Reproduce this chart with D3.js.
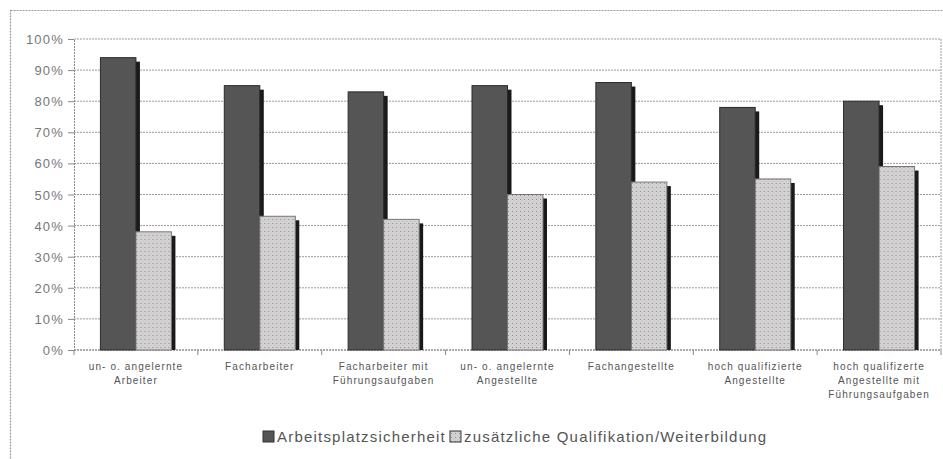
<!DOCTYPE html>
<html>
<head>
<meta charset="utf-8">
<script src="https://cdn.jsdelivr.net/npm/d3@7"></script>
<style>
  body { margin: 0; background: #fff; }
  svg { font-family: "Liberation Sans", Arial, sans-serif; }
  .grid line { stroke: #9a9a9a; stroke-dasharray: 2 1; }
  .axis text { fill: #777; }
</style>
</head>
<body>
<svg id="chart" width="943" height="459"></svg>
<script>
const categories = [
  ['un- o. angelernte', 'Arbeiter'],
  ['Facharbeiter'],
  ['Facharbeiter mit', 'Führungsaufgaben'],
  ['un- o. angelernte', 'Angestellte'],
  ['Fachangestellte'],
  ['hoch qualifizierte', 'Angestellte'],
  ['hoch qualifizerte', 'Angestellte mit', 'Führungsaufgaben']
]
const seriesNames = ['Arbeitsplatzsicherheit', 'zusätzliche Qualifikation/Weiterbildung']
const sicherheit = [94, 85, 83, 85, 86, 78, 80]
const qualifikation = [38, 43, 42, 50, 54, 55, 59]
const yTicks = [0, 10, 20, 30, 40, 50, 60, 70, 80, 90, 100]

const svg = d3.select('#chart')
const margin = { top: 39, left: 74, bottom: 109, right: 2 }
const width = +svg.attr('width') - margin.left - margin.right
const height = +svg.attr('height') - margin.top - margin.bottom

const defs = svg.append('defs')
const pat = defs.append('pattern').attr('id', 'dots')
  .attr('width', 4).attr('height', 4).attr('patternUnits', 'userSpaceOnUse')
pat.append('rect').attr('width', 4).attr('height', 4).attr('fill', '#d2d2d2')
pat.append('rect').attr('width', 1).attr('height', 1).attr('fill', '#8c8c8c')
pat.append('rect').attr('x', 2).attr('y', 2).attr('width', 1).attr('height', 1).attr('fill', '#d9b8c0')

// outer frame
svg.append('rect').attr('x', 10.5).attr('y', 10.5).attr('width', 940).attr('height', 460)
  .attr('fill', 'none').attr('stroke', '#999').attr('stroke-width', 1.2).attr('stroke-dasharray', '2 1')

const g = svg.append('g').attr('transform', `translate(${margin.left},${margin.top})`)

const x = d3.scaleBand().domain(d3.range(categories.length)).range([0, width])
const x1 = d3.scaleBand().domain([0, 1]).range([0, 71])
const y = d3.scaleLinear().domain([0, 100]).range([height, 0])

g.append('g').classed('grid', true).selectAll('line').data(yTicks).join('line')
  .attr('x1', 0).attr('x2', width).attr('y1', d => y(d)).attr('y2', d => y(d))
g.append('line').attr('x1', width).attr('x2', width).attr('y1', 0).attr('y2', height)
  .attr('stroke', '#9a9a9a').attr('stroke-dasharray', '2 1')

const yAxis = d3.axisLeft(y).tickValues(yTicks).tickFormat(d => d + '%').tickSize(6)
const yAxisEl = g.append('g').classed('axis', true).call(yAxis)
yAxisEl.select('.domain').attr('stroke', '#888').attr('stroke-dasharray', '2 1')
yAxisEl.selectAll('.tick line').attr('stroke', '#888')
yAxisEl.selectAll('text').attr('font-size', 13).attr('letter-spacing', 1.2).attr('x', -10).attr('dy', '0.35em')

const xAxisEl = g.append('g').attr('transform', `translate(0,${height})`)
xAxisEl.append('line').attr('x1', 0).attr('x2', width).attr('stroke', '#888').attr('stroke-dasharray', '2 1')
xAxisEl.selectAll('.tk').data(d3.range(categories.length + 1)).join('line')
  .attr('x1', d => d * x.bandwidth()).attr('x2', d => d * x.bandwidth())
  .attr('y1', 0).attr('y2', 5).attr('stroke', '#888')

const series = [
  { values: sicherheit, fill: '#555555', stroke: '#2a2a2a' },
  { values: qualifikation, fill: 'url(#dots)', stroke: '#777' }
]

const groups = g.selectAll('.grp').data(categories).join('g')
  .attr('transform', (d, i) => `translate(${x(i) + x.bandwidth() / 2 - 35.5},0)`)

series.forEach((s, si) => {
  // shadow
  groups.append('rect')
    .attr('x', x1(si) + 4).attr('y', (d, i) => y(s.values[i]) + 4)
    .attr('width', x1.bandwidth()).attr('height', (d, i) => height - y(s.values[i]) - 4)
    .attr('fill', '#1a1a1a')
  groups.append('rect')
    .attr('x', x1(si)).attr('y', (d, i) => y(s.values[i]))
    .attr('width', x1.bandwidth()).attr('height', (d, i) => height - y(s.values[i]))
    .attr('fill', s.fill).attr('stroke', s.stroke).attr('stroke-width', 1)
})

groups.append('text')
  .attr('x', 35.5).attr('y', height + 20)
  .attr('text-anchor', 'middle').attr('font-size', 10).attr('letter-spacing', 1.1).attr('fill', '#555')
  .selectAll('tspan').data(d => d).join('tspan')
  .attr('x', 35.5).attr('dy', (d, i) => i === 0 ? 0 : 14).text(d => d)

// legend
const legend = svg.append('g').attr('transform', 'translate(263,437)')
const legendFills = ['#555555', 'url(#dots)']
let lx = 0
seriesNames.forEach((name, i) => {
  legend.append('rect').attr('x', lx).attr('y', -6).attr('width', 11).attr('height', 11)
    .attr('fill', legendFills[i]).attr('stroke', '#333')
  const t = legend.append('text').attr('x', lx + 14).attr('y', 5)
    .attr('font-size', 15).attr('letter-spacing', 1.2).attr('fill', '#555').text(name)
  lx += 14 + t.node().getComputedTextLength() + 4
})
</script>
</body>
</html>
